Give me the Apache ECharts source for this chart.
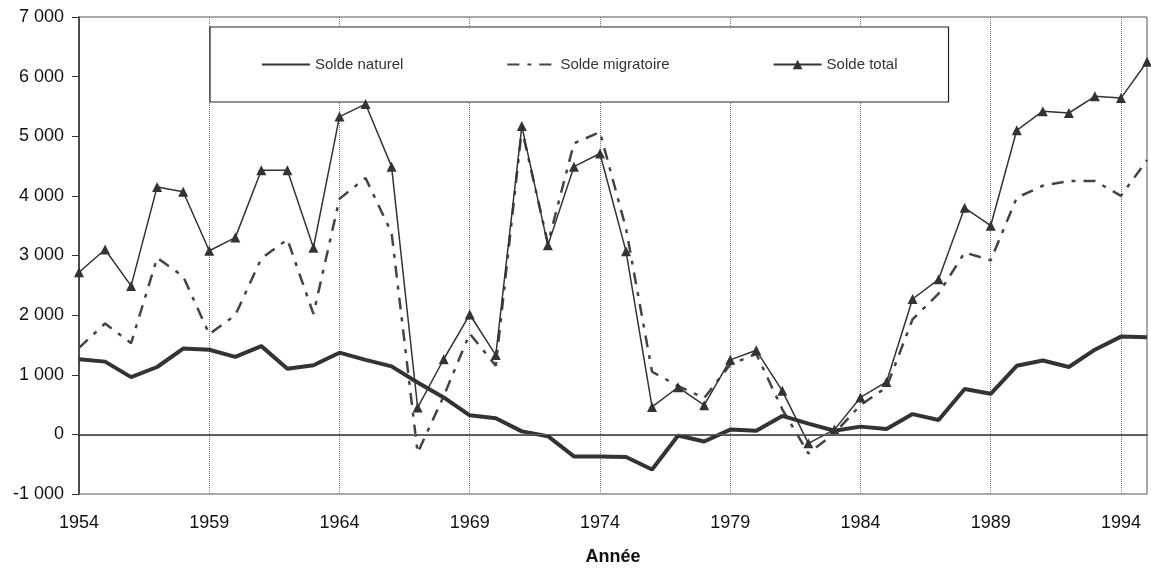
<!DOCTYPE html>
<html>
<head>
<meta charset="utf-8">
<title>Solde naturel, migratoire et total</title>
<script src="https://cdn.jsdelivr.net/npm/echarts@6/dist/echarts.min.js"></script>
<style>
  html, body { margin: 0; padding: 0; background: #fff; }
  #chart { width: 1151px; height: 568px; }
</style>
</head>
<body>
<div id="chart"></div>
<script>
// années 1954 -> 1995
const years = []
for (let y = 1954; y <= 1995; y++) years.push(String(y))

const soldeNaturel = [
  1260, 1220, 960, 1130, 1440, 1420, 1300, 1480, 1100, 1160,
  1370, 1250, 1140, 870, 620, 320, 270, 50, -30, -370,
  -370, -380, -590, -20, -120, 80, 60, 310, 180, 60,
  130, 90, 340, 240, 760, 680, 1150, 1240, 1130, 1420,
  1640, 1630
]

const soldeMigratoire = [
  1450, 1860, 1530, 2960, 2650, 1680, 2000, 2950, 3270, 2020,
  3950, 4300, 3380, -310, 640, 1690, 1150, 5120, 3200, 4880,
  5070, 3450, 1050, 810, 610, 1170, 1350, 420, -320, 20,
  490, 790, 1930, 2360, 3050, 2920, 3970, 4170, 4250, 4250,
  4000, 4600
]

const soldeTotal = [
  2720, 3100, 2490, 4150, 4070, 3080, 3300, 4430, 4430, 3130,
  5330, 5540, 4490, 450, 1260, 2010, 1330, 5170, 3170, 4490,
  4710, 3070, 460, 790, 490, 1250, 1410, 730, -150, 80,
  620, 880, 2270, 2600, 3800, 3500, 5100, 5420, 5390, 5670,
  5640, 6250
]

const yTicks = { min: -1000, max: 7000, step: 1000 }

const fontFamily = '"Liberation Sans", Arial, sans-serif'

const chart = echarts.init(document.getElementById('chart'))

chart.setOption({
  animation: false,
  textStyle: { fontFamily: fontFamily },
  grid: {
    left: 79,
    right: 4,
    top: 17,
    bottom: 74,
    outerBoundsMode: 'none',
    containLabel: false,
    show: true,
    borderColor: '#555',
    borderWidth: 1
  },
  legend: {
    left: 210,
    top: 27,
    padding: [30, 51, 30, 51],
    itemWidth: 48,
    itemHeight: 12,
    itemGap: 103,
    borderColor: '#222',
    borderWidth: 1.2,
    backgroundColor: '#fff',
    textStyle: { fontSize: 15, color: '#333', fontFamily: fontFamily },
    data: [
      { name: 'Solde naturel', itemStyle: { opacity: 0 } },
      { name: 'Solde migratoire', itemStyle: { opacity: 0 } },
      { name: 'Solde total' }
    ]
  },
  xAxis: {
    type: 'category',
    data: years,
    boundaryGap: false,
    name: 'Année',
    nameLocation: 'middle',
    nameGap: 54,
    nameTextStyle: { fontSize: 18, fontWeight: 'bold', color: '#111' },
    axisLine: { lineStyle: { color: '#222', width: 1.5 } },
    axisTick: { show: false },
    axisLabel: { interval: 4, fontSize: 18, color: '#111', margin: 20 },
    splitLine: {
      show: true,
      interval: 4,
      lineStyle: { color: '#777', type: 'dotted', width: 1 }
    }
  },
  yAxis: {
    type: 'value',
    min: yTicks.min,
    max: yTicks.max,
    interval: yTicks.step,
    axisLine: { show: true, lineStyle: { color: '#333', width: 1.5 } },
    axisTick: { show: true, inside: false, length: 7, lineStyle: { color: '#333' } },
    axisLabel: {
      fontSize: 18,
      color: '#111',
      margin: 15,
      formatter: v => {
        const s = String(Math.abs(v)).replace(/\B(?=(\d{3})+(?!\d))/g, ' ')
        return (v < 0 ? '-' : '') + s
      }
    },
    splitLine: { show: false }
  },
  series: [
    {
      name: 'Solde naturel',
      type: 'line',
      data: soldeNaturel,
      symbol: 'none',
      lineStyle: { color: '#333', width: 4 },
      itemStyle: { color: '#333' },
      z: 3,
      markLine: {
        silent: true,
        symbol: ['none', 'none'],
        label: { show: false },
        lineStyle: { color: '#666', type: 'solid', width: 1 },
        data: [{ yAxis: 0 }]
      }
    },
    {
      name: 'Solde migratoire',
      type: 'line',
      data: soldeMigratoire,
      symbol: 'none',
      lineStyle: { color: '#444', width: 2.5, type: [12, 8, 4, 8] },
      itemStyle: { color: '#444' },
      z: 2
    },
    {
      name: 'Solde total',
      type: 'line',
      data: soldeTotal,
      symbol: 'triangle',
      symbolSize: 10,
      lineStyle: { color: '#333', width: 1.5 },
      itemStyle: { color: '#333' },
      z: 4
    }
  ]
})
</script>
</body>
</html>
